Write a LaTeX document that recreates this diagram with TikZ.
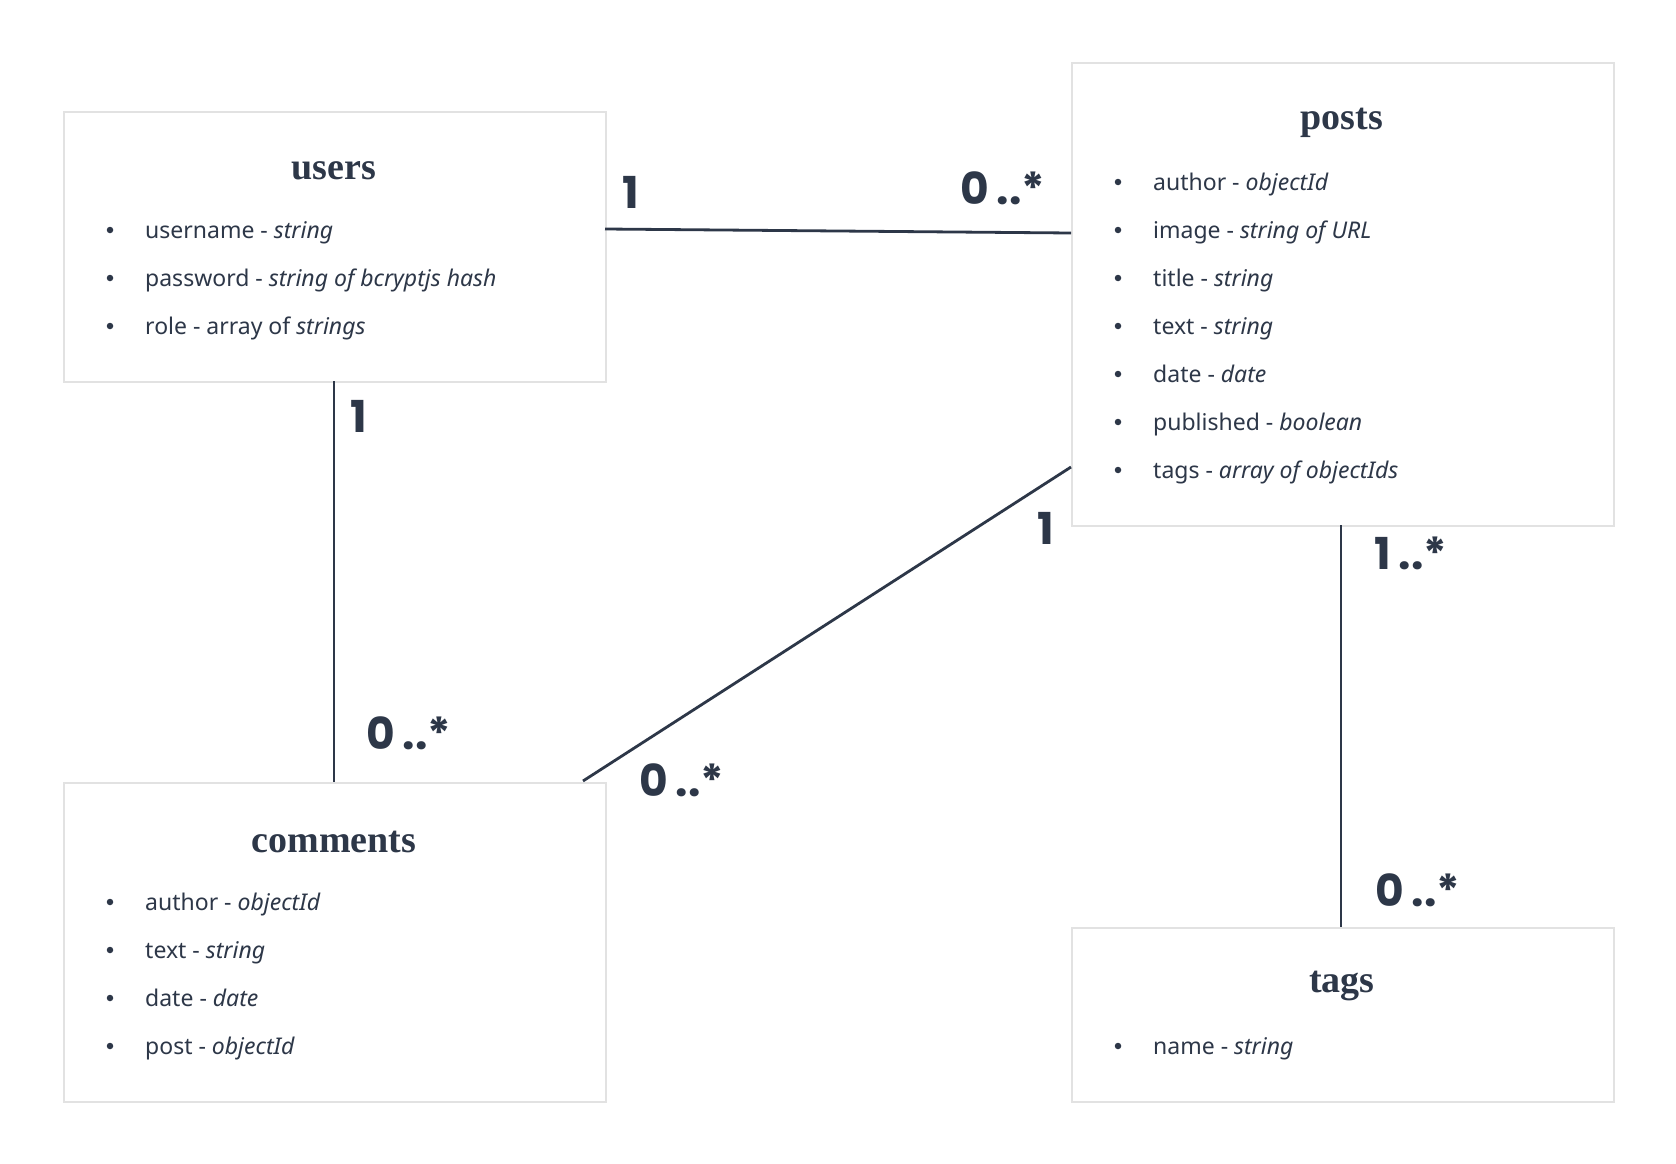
\documentclass[tikz,border=0pt]{standalone}
\usepackage{fontspec}
\setmainfont{Noto Sans}
\newfontfamily\titlefont{Liberation Serif}
\newfontfamily\handfont{Poppins}
\definecolor{ink}{HTML}{2D3748}
\definecolor{boxline}{HTML}{E2E2E2}
\begin{document}
\begin{tikzpicture}[x=1pt,y=-1pt,
  entity/.style={draw=boxline,line width=2pt,fill=white,inner sep=0pt,anchor=north west},
  title/.style={text=ink,font=\titlefont\bfseries\fontsize{38}{42}\selectfont,inner sep=0pt},
  item/.style={text=ink,font=\fontsize{23}{27}\selectfont,anchor=base west,inner sep=0pt},
  dot/.style={circle,fill=ink,inner sep=0pt,minimum size=6.5pt},
  conn/.style={draw=ink,line width=2.8pt},
  mult/.style={text=ink,font=\handfont\bfseries\fontsize{44}{48}\selectfont,inner sep=0pt}
]
\useasboundingbox (0,0) rectangle (1676,1164);
\fill[white] (0,0) rectangle (1676,1164);

% boxes
\node[entity,minimum width=542pt,minimum height=270pt] (users) at (63,111) {};
\node[entity,minimum width=542pt,minimum height=463pt] (posts) at (1071,62) {};
\node[entity,minimum width=542pt,minimum height=319pt] (comments) at (63,782) {};
\node[entity,minimum width=542pt,minimum height=174pt] (tags) at (1071,927) {};

% users
\node[title] (usersT) at (334,171) {users};
\node[dot] (ub1) at (110,230) {}; \node[item] (u1) at (145,238) {username - \textit{string}};
\node[dot] (ub2) at (110,278) {}; \node[item] (u2) at (145,286) {password - \textit{string of bcryptjs hash}};
\node[dot] (ub3) at (110,326) {}; \node[item] (u3) at (145,334) {role - array of \textit{strings}};

% posts
\node[title] (postsT) at (1342,123) {posts};
\node[dot] (pb1) at (1118,182) {}; \node[item] (p1) at (1153,190) {author - \textit{objectId}};
\node[dot] (pb2) at (1118,230) {}; \node[item] (p2) at (1153,238) {image - \textit{string of URL}};
\node[dot] (pb3) at (1118,278) {}; \node[item] (p3) at (1153,286) {title - \textit{string}};
\node[dot] (pb4) at (1118,326) {}; \node[item] (p4) at (1153,334) {text - \textit{string}};
\node[dot] (pb5) at (1118,374) {}; \node[item] (p5) at (1153,382) {date - \textit{date}};
\node[dot] (pb6) at (1118,422) {}; \node[item] (p6) at (1153,430) {published - \textit{boolean}};
\node[dot] (pb7) at (1118,470) {}; \node[item] (p7) at (1153,478) {tags - \textit{array of objectIds}};

% comments
\node[title] (commentsT) at (334,842) {comments};
\node[dot] (cb1) at (110,902) {}; \node[item] (c1) at (145,910) {author - \textit{objectId}};
\node[dot] (cb2) at (110,950) {}; \node[item] (c2) at (145,958) {text - \textit{string}};
\node[dot] (cb3) at (110,998) {}; \node[item] (c3) at (145,1006) {date - \textit{date}};
\node[dot] (cb4) at (110,1046) {}; \node[item] (c4) at (145,1054) {post - \textit{objectId}};

% tags
\node[title] (tagsT) at (1342,986) {tags};
\node[dot] (tb1) at (1118,1046) {}; \node[item] (t1) at (1153,1054) {name - \textit{string}};

% connector end points
\coordinate (upR) at (605,229);
\coordinate (ppL) at (1071,233);
\coordinate (ucB) at (334,381);
\coordinate (ccT) at (334,782);
\coordinate (pcL) at (1071,467);
\coordinate (cpT) at (583,781);
\coordinate (ptB) at (1341,525);
\coordinate (tpT) at (1341,927);

\draw[conn] (upR) -- (ppL);
\draw[conn] (ucB) -- (ccT);
\draw[conn] (pcL) -- (cpT);
\draw[conn] (ptB) -- (tpT);

% multiplicities
\node[mult] (m1) at (631,192) {1};
\node[mult] (m2) at (1003,188) {0\,..*};
\node[mult] (m3) at (359,416) {1};
\node[mult] (m4) at (409,733) {0\,..*};
\node[mult] (m5) at (1046,528) {1};
\node[mult] (m6) at (682,780) {0\,..*};
\node[mult] (m7) at (1411,553) {1\,..*};
\node[mult] (m8) at (1418,890) {0\,..*};
\end{tikzpicture}
\end{document}
